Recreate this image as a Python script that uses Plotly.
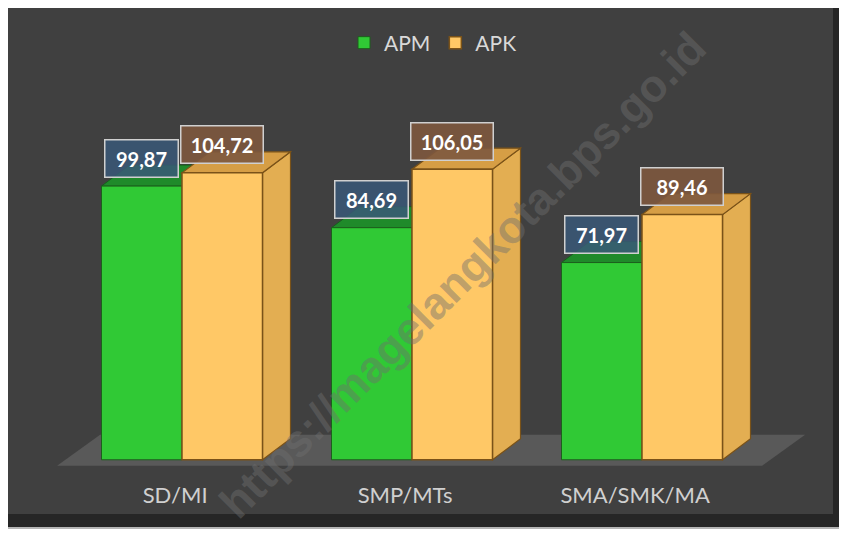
import plotly.graph_objects as go

# ---- data ----
categories = ["SD/MI", "SMP/MTs", "SMA/SMK/MA"]
apm = [99.87, 84.69, 71.97]
apk = [104.72, 106.05, 89.46]
apm_labels = ["99,87", "84,69", "71,97"]
apk_labels = ["104,72", "106,05", "89,46"]
series_names = ["APM", "APK"]

# ---- layout geometry (page body has an 8px margin) ----
OFF = 8
W, H = 847 - OFF, 536 - OFF
ML, MR, MT, MB = 42, 37, 101, 68
PW, PH = W - ML - MR, H - MT - MB
XR = [-0.5739, 2.7304]
YR = [-3, 128]
ux = PW / (XR[1] - XR[0])
uy = PH / (YR[1] - YR[0])
DX = 28 / ux          # depth offset (x units)
DY = 21 / uy          # depth offset (y units)
BW = 0.35
xpos = list(range(len(categories)))

GREEN = "#30C935"
GREEN_TOP = "#1F8A2A"
ORANGE = "#FFC866"
ORANGE_SIDE = "#E3AE52"
ORANGE_TOP = "#D69E45"
EDGE = "#7A5218"


def xp(px):
    return (px - OFF - ML) / PW


def yp(py):
    return (H - MB - (py - OFF)) / PH


def poly(pts):
    return "M " + " L ".join(f"{a},{b}" for a, b in pts) + " Z"


shapes = [
    dict(type="rect", xref="paper", yref="paper", x0=xp(3), x1=xp(844), y0=yp(529), y1=yp(3),
         fillcolor="#B5B5B5", line=dict(width=0), layer="below"),
    dict(type="rect", xref="paper", yref="paper", x0=xp(5), x1=xp(843), y0=yp(527), y1=yp(6),
         fillcolor="#262626", line=dict(width=0), layer="below"),
    dict(type="rect", xref="paper", yref="paper", x0=xp(8), x1=xp(833), y0=yp(514), y1=yp(8),
         fillcolor="#404040", line=dict(width=0), layer="below"),
]

# floor
fl0, fl1 = -0.543, 2.522
fy0, fy1 = -2.2, 9.1
fdx = 0.187
shapes.append(dict(type="path", xref="x", yref="y", layer="below",
                   path=poly([(fl0, fy0), (fl1, fy0), (fl1 + fdx, fy1), (fl0 + fdx, fy1)]),
                   fillcolor="#595959", line=dict(width=0)))

for i, (g, o) in enumerate(zip(apm, apk)):
    gx0, gx1 = i - BW, i
    shapes.append(dict(type="path", xref="x", yref="y", layer="below",
                       path=poly([(gx0, g), (gx1, g), (gx1 + DX, g + DY), (gx0 + DX, g + DY)]),
                       fillcolor=GREEN_TOP, line=dict(color="#175e1d", width=1)))
    ox0, ox1 = i, i + BW
    shapes.append(dict(type="path", xref="x", yref="y", layer="below",
                       path=poly([(ox1, 0), (ox1 + DX, DY), (ox1 + DX, o + DY), (ox1, o)]),
                       fillcolor=ORANGE_SIDE, line=dict(color=EDGE, width=1.2)))
    shapes.append(dict(type="path", xref="x", yref="y", layer="below",
                       path=poly([(ox0, o), (ox1, o), (ox1 + DX, o + DY), (ox0 + DX, o + DY)]),
                       fillcolor=ORANGE_TOP, line=dict(color=EDGE, width=1.2)))

fig = go.Figure()
fig.add_trace(go.Bar(name=series_names[0], x=xpos, y=apm, width=BW, offset=-BW,
                     marker=dict(color=GREEN, line=dict(color="#1d5e1d", width=1))))
fig.add_trace(go.Bar(name=series_names[1], x=xpos, y=apk, width=BW, offset=0,
                     marker=dict(color=ORANGE, line=dict(color=EDGE, width=1.5))))

annotations = []
lab_off = 28 / uy
for i in xpos:
    annotations.append(dict(x=i - BW / 2, y=apm[i] + lab_off, xref="x", yref="y",
                            text=apm_labels[i], showarrow=False, width=70, height=34,
                            bgcolor="rgba(58,88,120,0.85)", bordercolor="#D0D0D0",
                            borderwidth=1.5, borderpad=1,
                            font=dict(family="Lato", size=20, color="white", weight="bold")))
    annotations.append(dict(x=i + BW / 2, y=apk[i] + lab_off, xref="x", yref="y",
                            text=apk_labels[i], showarrow=False, width=79, height=34,
                            bgcolor="rgba(125,88,62,0.9)", bordercolor="#D0D0D0",
                            borderwidth=1.5, borderpad=1,
                            font=dict(family="Lato", size=20, color="white", weight="bold")))

# watermark
annotations.append(dict(x=xp(462), y=yp(275), xref="paper", yref="paper",
                        text="https://magelangkota.bps.go.id", showarrow=False, textangle=-45,
                        font=dict(family="Liberation Sans", size=45, weight="bold",
                                  color="rgba(110,110,110,0.45)")))

fig.update_layout(
    width=W, height=H,
    margin=dict(l=ML, r=MR, t=MT, b=MB),
    paper_bgcolor="white",
    plot_bgcolor="rgba(0,0,0,0)",
    barmode="overlay",
    shapes=shapes,
    annotations=annotations,
    hovermode=False,
    legend=dict(orientation="h", xref="container", yref="container",
                x=(433 - OFF) / W, y=1 - (43 - OFF) / H, xanchor="center", yanchor="middle",
                font=dict(family="Lato", size=21, color="#D9D9D9"),
                bgcolor="rgba(0,0,0,0)", itemwidth=30, traceorder="normal"),
    xaxis=dict(range=XR, tickvals=[i - 0.03 for i in xpos], ticktext=categories,
               showgrid=False, zeroline=False, showline=False,
               ticks="outside", ticklen=8, tickcolor="rgba(0,0,0,0)",
               tickfont=dict(family="Lato", size=22, color="#D0D0D0")),
    yaxis=dict(range=YR, visible=False, showgrid=False, zeroline=False),
)

fig.write_html("out.html")
